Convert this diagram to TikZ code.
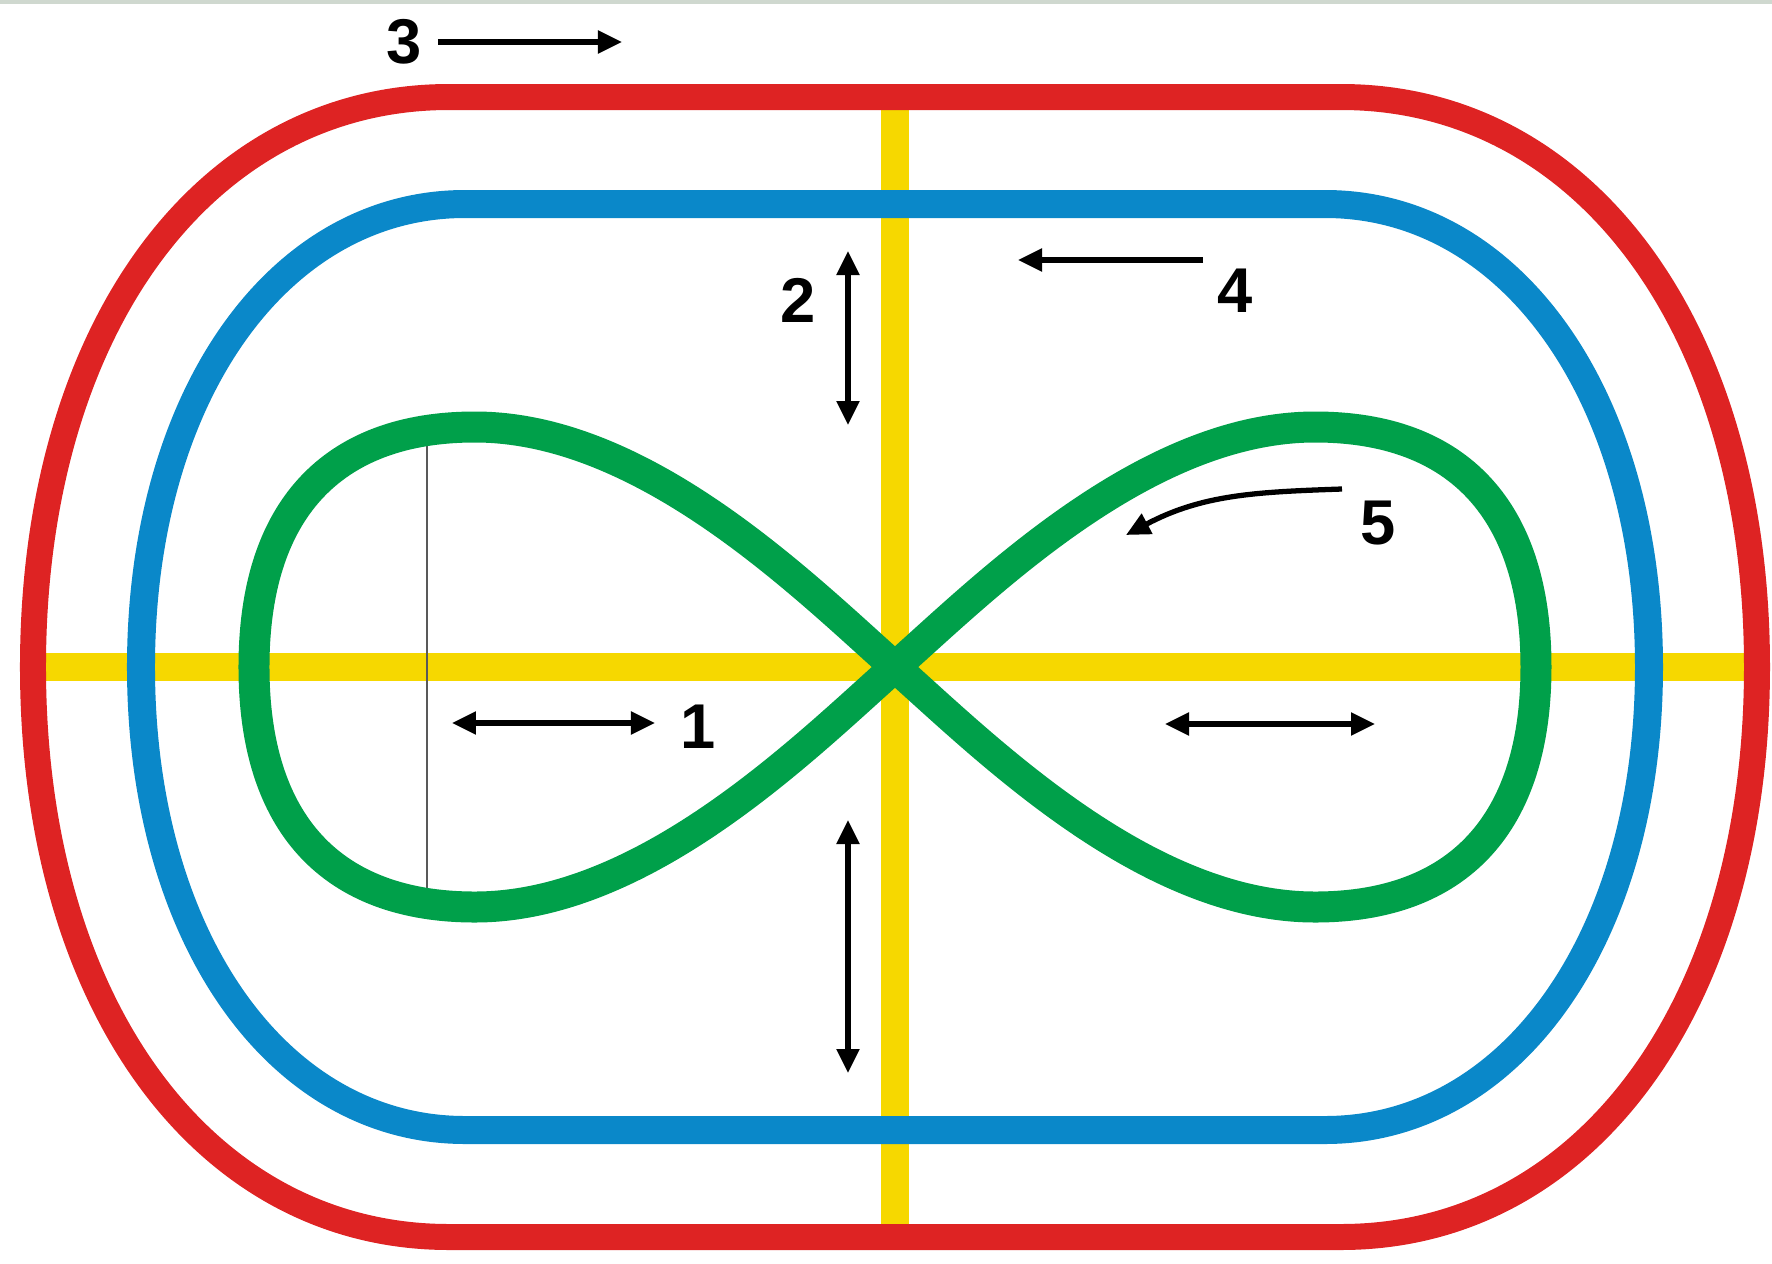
\documentclass[tikz,border=0pt]{standalone}
\usepackage{fontspec}
\setmainfont{Liberation Sans}
\usepackage{tikz}
\usetikzlibrary{arrows.meta,calc}
\definecolor{redlane}{HTML}{DE2323}
\definecolor{bluelane}{HTML}{0A88C9}
\definecolor{greenlane}{HTML}{00A04A}
\definecolor{axiscol}{HTML}{F6D800}
\definecolor{edgecol}{HTML}{CFD8CF}
\newcommand{\lane}[6]{% #1 color, #2 half straight, #3 x radius, #4 y radius, #5 width, #6 corner factor
  \draw[#1, line width=#5] (-#2,#4) -- (#2,#4)
    .. controls ({#2+#6*#3},#4) and ({#2+#3},{#6*#4}) .. ({#2+#3},0)
    .. controls ({#2+#3},{-#6*#4}) and ({#2+#6*#3},-#4) .. (#2,-#4)
    -- (-#2,-#4)
    .. controls ({-#2-#6*#3},-#4) and ({-#2-#3},{-#6*#4}) .. ({-#2-#3},0)
    .. controls ({-#2-#3},{#6*#4}) and ({-#2-#6*#3},#4) .. (-#2,#4) -- cycle;
}

\begin{document}
\begin{tikzpicture}[every node/.style={font=\fontsize{18}{18}\selectfont\bfseries},
    arr/.style={line width=1.5pt, -{Triangle[length=2.4mm,width=2.2mm]}},
    darr/.style={line width=1.5pt, {Triangle[length=2.4mm,width=2.2mm]}-{Triangle[length=2.4mm,width=2.2mm]}}]
  \useasboundingbox (-8.95,-5.96) rectangle (8.77,6.67);
  \fill[edgecol] (-8.95,6.63) rectangle (8.77,6.67);
  % axes
  \draw[axiscol, line width=2.8mm] (0,5.70) -- (0,-5.70);
  \draw[axiscol, line width=2.8mm] (-8.62,0) -- (8.62,0);
  % lanes
  \lane{redlane}{4.46}{4.16}{5.70}{2.6mm}{0.59}
  \lane{bluelane}{4.30}{3.24}{4.63}{2.8mm}{0.58}
  \draw[black!65, line width=0.8pt] (-4.68,2.40) -- (-4.68,-2.40);
  % figure eight
  \draw[greenlane, line width=3.1mm] (0,0)
    .. controls (-0.9,0.8) and (-2.5,2.40) .. (-4.2,2.40)
    .. controls (-5.64,2.40) and (-6.41,1.56) .. (-6.41,0)
    .. controls (-6.41,-1.56) and (-5.64,-2.40) .. (-4.2,-2.40)
    .. controls (-2.5,-2.40) and (-0.9,-0.8) .. (0,0)
    .. controls (0.9,0.8) and (2.5,2.40) .. (4.2,2.40)
    .. controls (5.64,2.40) and (6.41,1.56) .. (6.41,0)
    .. controls (6.41,-1.56) and (5.64,-2.40) .. (4.2,-2.40)
    .. controls (2.5,-2.40) and (0.9,-0.8) .. (0,0) -- cycle;
  % labels
  \node (n1) at (-1.97,-0.60) {1};
  \node (n2) at (-0.97,3.67) {2};
  \node (n3) at (-4.91,6.25) {3};
  \node (n4) at (3.40,3.76) {4};
  \node (n5) at (4.83,1.44) {5};
  \coordinate (a1l) at (-4.43,-0.56);
  \coordinate (a1r) at (-2.40,-0.56);
  \coordinate (b1l) at (2.70,-0.57);
  \coordinate (b1r) at (4.80,-0.57);
  \coordinate (a2t) at (-0.47,4.16);
  \coordinate (a2b) at (-0.47,2.42);
  \coordinate (b2t) at (-0.47,-1.53);
  \coordinate (b2b) at (-0.47,-4.06);
  \coordinate (a3s) at (-4.57,6.25);
  \coordinate (a3e) at (-2.73,6.25);
  \coordinate (a4s) at (3.08,4.07);
  \coordinate (a4e) at (1.23,4.07);
  \coordinate (a5s) at (4.47,1.78);
  \coordinate (a5e) at (2.31,1.32);
  % arrows
  \draw[darr] (a1l) -- (a1r);
  \draw[darr] (b1l) -- (b1r);
  \draw[darr] (a2t) -- (a2b);
  \draw[darr] (b2t) -- (b2b);
  \draw[arr] (a3s) -- (a3e);
  \draw[arr] (a4s) -- (a4e);
  \draw[arr] (a5s) to[out=182, in=28] (a5e);
\end{tikzpicture}
\end{document}
